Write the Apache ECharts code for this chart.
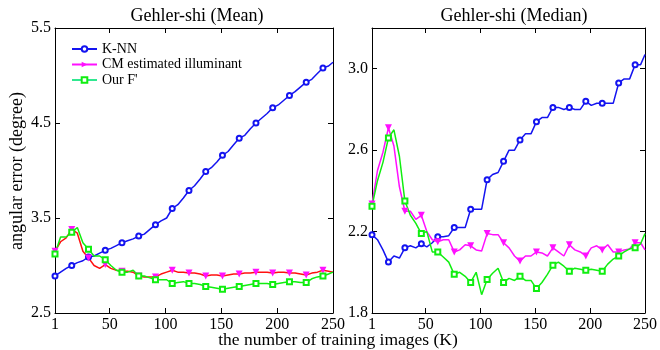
<!DOCTYPE html>
<html>
<head>
<meta charset="utf-8">
<script src="https://cdn.jsdelivr.net/npm/echarts@6/dist/echarts.min.js"></script>
<style>
  html, body { margin: 0; padding: 0; background: #fff; }
  #chart { width: 660px; height: 350px; }
</style>
</head>
<body>
<div id="chart"></div>
<script>
// training set sizes K (one sample every 5 images)
const trainSizes = [1, 6, 11, 16, 21, 26, 31, 36, 41, 46, 51, 56, 61, 66, 71, 76, 81, 86, 91, 96,
  101, 106, 111, 116, 121, 126, 131, 136, 141, 146, 151, 156, 161, 166, 171, 176, 181, 186, 191, 196,
  201, 206, 211, 216, 221, 226, 231, 236, 241, 246, 250]

const xTicks = [1, 50, 100, 150, 200, 250]
const meanTicks = [2.5, 3.5, 4.5, 5.5]
const medianTicks = [1.8, 2.2, 2.6, 3.0]

// Gehler-shi (Mean)
const meanKnn = [2.89, 2.93, 2.97, 3.00, 3.03, 3.05, 3.09, 3.10, 3.13, 3.16, 3.18, 3.21, 3.24, 3.26, 3.28, 3.31, 3.33, 3.38, 3.43, 3.47,
  3.50, 3.60, 3.64, 3.71, 3.79, 3.84, 3.91, 3.99, 4.03, 4.09, 4.16, 4.20, 4.27, 4.34, 4.37, 4.44, 4.50, 4.55, 4.60, 4.66,
  4.69, 4.74, 4.79, 4.83, 4.88, 4.93, 4.96, 5.02, 5.08, 5.10, 5.14]
const meanCm = [3.15, 3.25, 3.29, 3.38, 3.34, 3.15, 3.08, 3.00, 2.97, 3.01, 2.97, 2.95, 2.94, 2.94, 2.93, 2.89, 2.88, 2.88, 2.88, 2.91,
  2.93, 2.95, 2.93, 2.93, 2.92, 2.92, 2.91, 2.89, 2.90, 2.90, 2.89, 2.90, 2.91, 2.91, 2.92, 2.92, 2.93, 2.93, 2.93, 2.92,
  2.93, 2.93, 2.92, 2.92, 2.91, 2.90, 2.92, 2.93, 2.95, 2.94, 2.93]
const meanOurs = [3.12, 3.30, 3.30, 3.35, 3.40, 3.24, 3.17, 3.10, 3.10, 3.06, 3.00, 2.95, 2.93, 2.93, 2.95, 2.89, 2.89, 2.87, 2.85, 2.85,
  2.85, 2.81, 2.82, 2.83, 2.81, 2.81, 2.80, 2.78, 2.77, 2.76, 2.75, 2.76, 2.77, 2.78, 2.79, 2.80, 2.81, 2.81, 2.81, 2.80,
  2.81, 2.82, 2.83, 2.83, 2.82, 2.82, 2.86, 2.88, 2.89, 2.91, 2.93]

// Gehler-shi (Median)
const medKnn = [2.185, 2.16, 2.11, 2.05, 2.08, 2.07, 2.12, 2.13, 2.12, 2.14, 2.125, 2.145, 2.175, 2.175, 2.18, 2.22, 2.22, 2.22, 2.31, 2.31,
  2.31, 2.455, 2.48, 2.49, 2.545, 2.60, 2.60, 2.65, 2.68, 2.68, 2.74, 2.76, 2.76, 2.81, 2.81, 2.80, 2.81, 2.80, 2.80, 2.84,
  2.82, 2.83, 2.83, 2.83, 2.83, 2.93, 2.95, 2.95, 3.02, 3.02, 3.07]
const medCm = [2.335, 2.50, 2.59, 2.71, 2.62, 2.42, 2.30, 2.30, 2.26, 2.28, 2.20, 2.16, 2.15, 2.16, 2.16, 2.10, 2.11, 2.135, 2.13, 2.11,
  2.105, 2.19, 2.185, 2.185, 2.145, 2.12, 2.08, 2.055, 2.08, 2.08, 2.10, 2.095, 2.08, 2.12, 2.10, 2.08, 2.135, 2.11, 2.10, 2.08,
  2.12, 2.13, 2.11, 2.135, 2.10, 2.10, 2.11, 2.115, 2.145, 2.145, 2.11]
const medOurs = [2.325, 2.45, 2.54, 2.66, 2.70, 2.57, 2.35, 2.28, 2.24, 2.19, 2.20, 2.10, 2.10, 2.075, 2.05, 1.99, 2.00, 1.98, 1.95, 2.00,
  1.89, 1.965, 1.995, 2.02, 1.95, 1.97, 1.96, 1.98, 1.96, 1.96, 1.92, 1.95, 1.99, 2.035, 2.05, 2.03, 2.005, 2.02, 2.015, 2.01,
  2.015, 2.01, 2.005, 2.04, 2.065, 2.08, 2.10, 2.115, 2.12, 2.14, 2.19]

const FONT = '"Liberation Serif", "Times New Roman", serif'
const BLUE = '#1414f0'
const RED = '#ff1010'
const MAGENTA = '#ff10ff'
const GREEN = '#10ee10'

const chart = echarts.init(document.getElementById('chart'), null, { renderer: 'canvas' })

// marker every third sample (K = 1, 16, 31, ...)
function toPoints(values) {
  return values.map((v, i) => ({
    value: [trainSizes[i], v],
    symbol: i % 3 === 0 ? undefined : 'none'
  }))
}

function lineSeries(name, values, gridIdx, lineColor, markColor, symbol, rotate) {
  return {
    name: name,
    type: 'line',
    xAxisIndex: gridIdx * 2,
    yAxisIndex: gridIdx * 2,
    data: toPoints(values),
    showAllSymbol: true,
    symbol: symbol,
    symbolSize: symbol === 'triangle' ? 7 : 5,
    symbolRotate: rotate || 0,
    lineStyle: { color: lineColor, width: 1.5 },
    itemStyle: { color: markColor, borderWidth: 1.2 },
    animation: false,
    z: 3
  }
}

function bottomAxis(gridIdx) {
  return {
    type: 'value',
    gridIndex: gridIdx,
    position: 'bottom',
    min: 1,
    max: 250,
    axisLine: { lineStyle: { color: '#000', width: 1 } },
    axisTick: { inside: true, length: 5, customValues: xTicks, lineStyle: { color: '#000' } },
    axisLabel: { customValues: xTicks, color: '#000', fontFamily: FONT, fontSize: 16, margin: 4 },
    splitLine: { show: false }
  }
}

function topAxis(gridIdx) {
  return {
    type: 'value',
    gridIndex: gridIdx,
    position: 'top',
    min: 1,
    max: 250,
    axisLine: { lineStyle: { color: '#000', width: 1 } },
    axisTick: { inside: true, length: 5, customValues: xTicks, lineStyle: { color: '#000' } },
    axisLabel: { show: false },
    splitLine: { show: false }
  }
}

function leftAxis(gridIdx, min, max, ticks) {
  return {
    type: 'value',
    gridIndex: gridIdx,
    position: 'left',
    min: min,
    max: max,
    axisLine: { show: true, lineStyle: { color: '#000', width: 1 } },
    axisTick: { show: true, inside: true, length: 5, customValues: ticks, lineStyle: { color: '#000' } },
    axisLabel: {
      customValues: ticks, color: '#000', fontFamily: FONT, fontSize: 16, margin: 4,
      formatter: v => v.toFixed(1)
    },
    splitLine: { show: false }
  }
}

function rightAxis(gridIdx, min, max, ticks) {
  return {
    type: 'value',
    gridIndex: gridIdx,
    position: 'right',
    min: min,
    max: max,
    axisLine: { show: true, lineStyle: { color: '#000', width: 1 } },
    axisTick: { show: true, inside: true, length: 5, customValues: ticks, lineStyle: { color: '#000' } },
    axisLabel: { show: false },
    splitLine: { show: false }
  }
}

const option = {
  backgroundColor: '#fff',
  textStyle: { fontFamily: FONT },
  grid: [
    { left: 55, right: 327, top: 28, bottom: 37 },
    { left: 372, right: 9, top: 28, bottom: 37 }
  ],
  xAxis: [bottomAxis(0), topAxis(0), bottomAxis(1), topAxis(1)],
  yAxis: [
    leftAxis(0, 2.5, 5.5, meanTicks), rightAxis(0, 2.5, 5.5, meanTicks),
    leftAxis(1, 1.8, 3.2, medianTicks), rightAxis(1, 1.8, 3.2, medianTicks)
  ],
  legend: {
    orient: 'vertical',
    left: 66,
    top: 37,
    itemWidth: 25,
    itemHeight: 7,
    itemGap: 1.5,
    textStyle: { fontFamily: FONT, fontSize: 14, color: '#000' },
    data: [
      { name: 'K-NN', lineStyle: { color: BLUE } },
      { name: 'CM estimated illuminant', lineStyle: { color: MAGENTA }, symbolRotate: -90 },
      { name: "Our F'", lineStyle: { color: '#30e890' }, itemStyle: { borderColor: '#30e890' } }
    ]
  },
  graphic: [
    { type: 'text', x: 197, y: 7, style: { text: 'Gehler-shi (Mean)', font: '18px ' + FONT, fill: '#000', textAlign: 'center' } },
    { type: 'text', x: 514, y: 7, style: { text: 'Gehler-shi (Median)', font: '18px ' + FONT, fill: '#000', textAlign: 'center' } },
    { type: 'text', x: 17, y: 171, rotation: Math.PI / 2, style: { text: 'angular error (degree)', font: '18px ' + FONT, fill: '#000', textAlign: 'center', textVerticalAlign: 'middle' } },
    { type: 'text', x: 338, y: 331, style: { text: 'the number of training images (K)', font: '17.5px ' + FONT, fill: '#000', textAlign: 'center' } }
  ],
  series: [
    lineSeries('K-NN', meanKnn, 0, BLUE, BLUE, 'emptyCircle'),
    lineSeries('CM estimated illuminant', meanCm, 0, RED, MAGENTA, 'triangle', 180),
    lineSeries("Our F'", meanOurs, 0, GREEN, GREEN, 'emptyRect'),
    lineSeries('K-NN', medKnn, 1, BLUE, BLUE, 'emptyCircle'),
    lineSeries('CM estimated illuminant', medCm, 1, MAGENTA, MAGENTA, 'triangle', 180),
    lineSeries("Our F'", medOurs, 1, GREEN, GREEN, 'emptyRect')
  ]
}

chart.setOption(option)
window.addEventListener('resize', () => chart.resize())
</script>
</body>
</html>
